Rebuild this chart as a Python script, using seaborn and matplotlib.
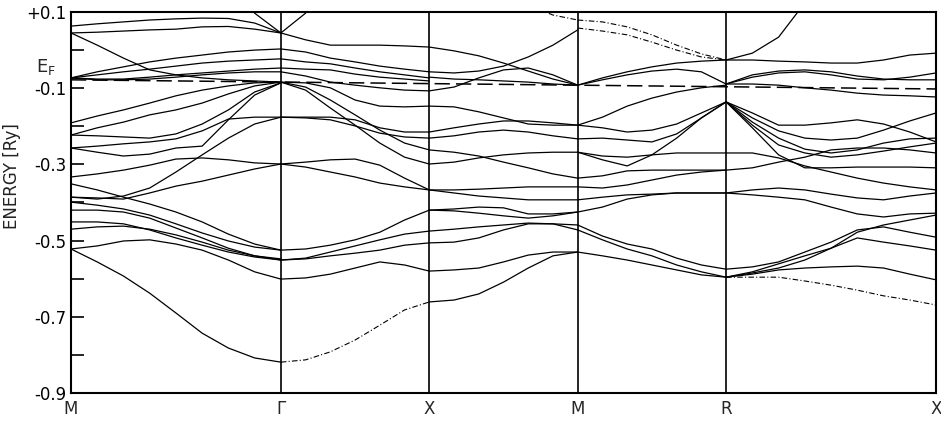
# ==================================================
# band structure along M-Γ-X-M-R-X
# ==================================================
import numpy as np
import pandas as pd
import matplotlib
matplotlib.use("Agg")
import matplotlib.pyplot as plt
import seaborn as sns

nan = np.nan

sym_labels = ["M", "Γ", "X", "M", "R", "X"]
sym_k = [0.0, 1.414, 2.414, 3.414, 4.414, 5.828]
seg_points = [9, 7, 7, 7, 9]

y_ticks = [0.1, -0.1, -0.3, -0.5, -0.7, -0.9]
y_tick_labels = ["+0.1", "-0.1", "-0.3", "-0.5", "-0.7", "-0.9"]
y_minor = [0.0, -0.2, -0.4, -0.6, -0.8]

fermi_k = [0.0, 5.828]
fermi_e = [-0.078, -0.102]

# energies in Ry, one row per band, sampled evenly along each segment
m_gamma = [
    [0.063, 0.069, 0.074, 0.079, 0.082, 0.084, 0.083, 0.071, 0.045],
    [0.045, 0.047, 0.050, 0.053, 0.055, 0.061, 0.062, 0.055, 0.045],
    [nan, nan, nan, nan, nan, nan, 0.265, 0.097, 0.045],
    [0.045, 0.013, -0.021, -0.052, -0.065, -0.073, -0.078, -0.081, -0.084],
    [-0.073, -0.057, -0.044, -0.031, -0.021, -0.013, -0.005, 0.000, 0.003],
    [-0.073, -0.065, -0.057, -0.050, -0.042, -0.034, -0.029, -0.026, -0.023],
    [-0.073, -0.076, -0.076, -0.071, -0.065, -0.060, -0.055, -0.050, -0.047],
    [-0.073, -0.078, -0.078, -0.076, -0.071, -0.065, -0.060, -0.057, -0.057],
    [-0.191, -0.173, -0.157, -0.139, -0.120, -0.105, -0.094, -0.086, -0.084],
    [-0.223, -0.204, -0.189, -0.170, -0.157, -0.139, -0.115, -0.094, -0.084],
    [-0.223, -0.225, -0.228, -0.231, -0.220, -0.194, -0.157, -0.110, -0.086],
    [-0.257, -0.252, -0.246, -0.241, -0.233, -0.212, -0.181, -0.176, -0.176],
    [-0.257, -0.268, -0.278, -0.273, -0.257, -0.252, -0.183, -0.118, -0.086],
    [-0.333, -0.325, -0.315, -0.302, -0.286, -0.283, -0.288, -0.296, -0.299],
    [-0.351, -0.367, -0.386, -0.404, -0.425, -0.451, -0.483, -0.509, -0.525],
    [-0.386, -0.388, -0.391, -0.375, -0.357, -0.344, -0.328, -0.312, -0.299],
    [-0.386, -0.391, -0.383, -0.362, -0.320, -0.275, -0.231, -0.194, -0.176],
    [-0.399, -0.407, -0.417, -0.433, -0.456, -0.480, -0.501, -0.517, -0.525],
    [-0.420, -0.420, -0.425, -0.441, -0.467, -0.493, -0.520, -0.540, -0.551],
    [-0.451, -0.451, -0.456, -0.472, -0.493, -0.512, -0.530, -0.543, -0.551],
    [-0.470, -0.464, -0.462, -0.470, -0.485, -0.504, -0.525, -0.540, -0.548],
    [-0.522, -0.514, -0.501, -0.498, -0.509, -0.525, -0.551, -0.582, -0.601],
    [-0.522, -0.556, -0.593, -0.638, -0.690, -0.743, -0.782, -0.808, -0.819],
]
m_gamma_faint = []

gamma_x = [
    [0.045, 0.097, 0.265, nan, nan, nan, nan],
    [0.045, 0.027, 0.013, 0.013, 0.013, 0.011, 0.008],
    [0.003, -0.005, -0.021, -0.031, -0.042, -0.050, -0.057],
    [-0.023, -0.031, -0.036, -0.047, -0.057, -0.065, -0.073],
    [-0.047, -0.050, -0.052, -0.063, -0.071, -0.076, -0.081],
    [-0.057, -0.068, -0.084, -0.092, -0.099, -0.105, -0.107],
    [-0.084, -0.086, -0.099, -0.131, -0.147, -0.149, -0.147],
    [-0.084, -0.097, -0.131, -0.170, -0.210, -0.244, -0.262],
    [-0.084, -0.105, -0.152, -0.197, -0.244, -0.281, -0.299],
    [-0.176, -0.176, -0.176, -0.183, -0.204, -0.215, -0.215],
    [-0.176, -0.178, -0.183, -0.199, -0.218, -0.228, -0.231],
    [-0.299, -0.294, -0.288, -0.286, -0.302, -0.336, -0.367],
    [-0.299, -0.307, -0.320, -0.333, -0.349, -0.359, -0.367],
    [-0.525, -0.522, -0.512, -0.498, -0.478, -0.446, -0.420],
    [-0.551, -0.546, -0.530, -0.514, -0.498, -0.483, -0.475],
    [-0.551, -0.548, -0.540, -0.533, -0.525, -0.512, -0.506],
    [-0.601, -0.598, -0.588, -0.572, -0.556, -0.564, -0.580],
]
gamma_x_faint = [
    [-0.819, -0.813, -0.792, -0.761, -0.722, -0.682, -0.661],
]

x_m = [
    [0.008, -0.002, -0.015, -0.034, -0.055, -0.076, -0.092],
    [-0.057, -0.060, -0.055, -0.042, -0.018, 0.013, 0.053],
    [-0.107, -0.097, -0.073, -0.052, -0.047, -0.065, -0.092],
    [-0.071, -0.076, -0.078, -0.081, -0.084, -0.089, -0.092],
    [-0.147, -0.149, -0.162, -0.178, -0.194, -0.197, -0.197],
    [-0.215, -0.204, -0.194, -0.186, -0.186, -0.191, -0.197],
    [-0.231, -0.225, -0.215, -0.210, -0.215, -0.225, -0.233],
    [-0.262, -0.268, -0.278, -0.294, -0.309, -0.325, -0.336],
    [-0.299, -0.294, -0.283, -0.275, -0.270, -0.268, -0.268],
    [-0.367, -0.367, -0.365, -0.362, -0.359, -0.359, -0.359],
    [-0.367, -0.375, -0.383, -0.388, -0.393, -0.393, -0.393],
    [-0.420, -0.417, -0.412, -0.414, -0.430, -0.430, -0.425],
    [-0.420, -0.422, -0.428, -0.435, -0.441, -0.435, -0.425],
    [-0.475, -0.470, -0.464, -0.459, -0.454, -0.456, -0.459],
    [-0.506, -0.504, -0.493, -0.472, -0.456, -0.456, -0.472],
    [-0.580, -0.577, -0.572, -0.556, -0.538, -0.530, -0.530],
    [-0.661, -0.656, -0.640, -0.609, -0.572, -0.540, -0.530],
]
x_m_faint = [
    [nan, nan, nan, nan, 0.118, 0.092, 0.079],
]

m_r = [
    [-0.092, -0.073, -0.057, -0.044, -0.034, -0.029, -0.026],
    [-0.092, -0.078, -0.065, -0.055, -0.050, -0.057, -0.089],
    [-0.197, -0.176, -0.147, -0.126, -0.110, -0.099, -0.092],
    [-0.197, -0.204, -0.215, -0.210, -0.194, -0.165, -0.136],
    [-0.233, -0.231, -0.236, -0.241, -0.220, -0.178, -0.136],
    [-0.268, -0.288, -0.304, -0.275, -0.231, -0.178, -0.136],
    [-0.268, -0.278, -0.281, -0.275, -0.270, -0.270, -0.270],
    [-0.336, -0.330, -0.317, -0.315, -0.315, -0.315, -0.315],
    [-0.359, -0.362, -0.354, -0.341, -0.328, -0.320, -0.315],
    [-0.393, -0.386, -0.380, -0.378, -0.375, -0.375, -0.375],
    [-0.425, -0.412, -0.391, -0.380, -0.375, -0.375, -0.375],
    [-0.459, -0.488, -0.509, -0.522, -0.546, -0.564, -0.575],
    [-0.472, -0.498, -0.522, -0.540, -0.564, -0.582, -0.596],
    [-0.530, -0.540, -0.551, -0.564, -0.577, -0.590, -0.596],
]
m_r_faint = [
    [0.079, 0.074, 0.061, 0.040, 0.013, -0.010, -0.026],
    [0.058, 0.050, 0.040, 0.021, 0.000, -0.018, -0.026],
]

r_x = [
    [-0.026, -0.008, 0.034, 0.124, nan, nan, nan, nan, nan],
    [-0.026, -0.026, -0.029, -0.031, -0.034, -0.034, -0.026, -0.013, -0.008],
    [-0.089, -0.065, -0.055, -0.052, -0.057, -0.068, -0.076, -0.078, -0.078],
    [-0.089, -0.071, -0.060, -0.057, -0.065, -0.076, -0.078, -0.071, -0.060],
    [-0.089, -0.089, -0.092, -0.099, -0.105, -0.113, -0.118, -0.120, -0.123],
    [-0.136, -0.165, -0.197, -0.197, -0.191, -0.183, -0.194, -0.215, -0.241],
    [-0.136, -0.178, -0.212, -0.231, -0.236, -0.231, -0.210, -0.186, -0.165],
    [-0.136, -0.189, -0.231, -0.260, -0.270, -0.262, -0.244, -0.233, -0.231],
    [-0.136, -0.197, -0.249, -0.270, -0.281, -0.275, -0.265, -0.254, -0.244],
    [-0.136, -0.204, -0.275, -0.309, -0.309, -0.307, -0.307, -0.307, -0.309],
    [-0.270, -0.270, -0.283, -0.304, -0.320, -0.336, -0.349, -0.359, -0.367],
    [-0.315, -0.309, -0.294, -0.281, -0.262, -0.257, -0.257, -0.262, -0.270],
    [-0.375, -0.367, -0.362, -0.367, -0.378, -0.388, -0.393, -0.383, -0.375],
    [-0.375, -0.380, -0.386, -0.393, -0.412, -0.430, -0.438, -0.430, -0.428],
    [-0.575, -0.569, -0.556, -0.530, -0.504, -0.472, -0.464, -0.478, -0.491],
    [-0.596, -0.585, -0.572, -0.551, -0.520, -0.478, -0.459, -0.446, -0.433],
    [-0.596, -0.588, -0.577, -0.572, -0.569, -0.567, -0.572, -0.588, -0.603],
    [-0.596, -0.582, -0.561, -0.540, -0.520, -0.493, -0.504, -0.514, -0.525],
]
r_x_faint = [
    [-0.596, -0.596, -0.596, -0.606, -0.617, -0.630, -0.645, -0.656, -0.669],
]

segments = [m_gamma, gamma_x, x_m, m_r, r_x]
segments_faint = [m_gamma_faint, gamma_x_faint, x_m_faint, m_r_faint, r_x_faint]

# long-form table for seaborn
rows = []
for i, (solid, faint) in enumerate(zip(segments, segments_faint)):
    k = np.linspace(sym_k[i], sym_k[i + 1], seg_points[i])
    for style, bands in (("solid", solid), ("faint", faint)):
        for j, band in enumerate(bands):
            for kk, e in zip(k, band):
                rows.append((f"{i}-{style}-{j}", style, kk, e))
df = pd.DataFrame(rows, columns=["band", "style", "k", "E"]).dropna()

sns.set_theme(style="white")
plt.rcParams["font.family"] = ["DejaVu Sans"]
plt.rcParams["axes.unicode_minus"] = False

fig = plt.figure(figsize=(9.41, 4.21), dpi=100)
ax = fig.add_axes([71 / 941, 28 / 421, 865 / 941, 381 / 421])

sns.lineplot(data=df[df["style"] == "solid"], x="k", y="E", units="band",
             estimator=None, color="black", linewidth=0.9, ax=ax, legend=False)
sns.lineplot(data=df[df["style"] == "faint"], x="k", y="E", units="band",
             estimator=None, color="black", linewidth=0.8, linestyle=(0, (5, 2, 1, 2)),
             ax=ax, legend=False)

# Fermi level
ax.plot(fermi_k, fermi_e, color="black", linewidth=1.1, linestyle=(0, (10, 4)))

for kk in sym_k[1:-1]:
    ax.axvline(kk, color="black", linewidth=1.2)

ax.set_xlim(sym_k[0], sym_k[-1])
ax.set_ylim(-0.9, 0.1)

ax.set_xticks(sym_k)
ax.set_xticklabels(sym_labels, fontsize=12)
ax.tick_params(axis="x", length=0, pad=5)

ax.set_yticks(y_ticks)
ax.set_yticklabels(y_tick_labels, fontsize=12)
ax.set_yticks(y_minor, minor=True)
ax.tick_params(axis="y", which="both", direction="in", length=9, width=1.2,
               pad=3, left=True, colors="black")

for sp in ax.spines.values():
    sp.set_color("black")
    sp.set_linewidth(1.5)

ax.set_xlabel("")
ax.set_ylabel("ENERGY [Ry]", fontsize=12, color="#222222")
ax.yaxis.set_label_coords(-0.058, 0.57)

ax.text(-0.017, -0.045, r"$\mathregular{E_F}$", fontsize=13,
        transform=ax.get_yaxis_transform(), ha="right", va="center")

fig.savefig("out.png", dpi=100, facecolor="white")
